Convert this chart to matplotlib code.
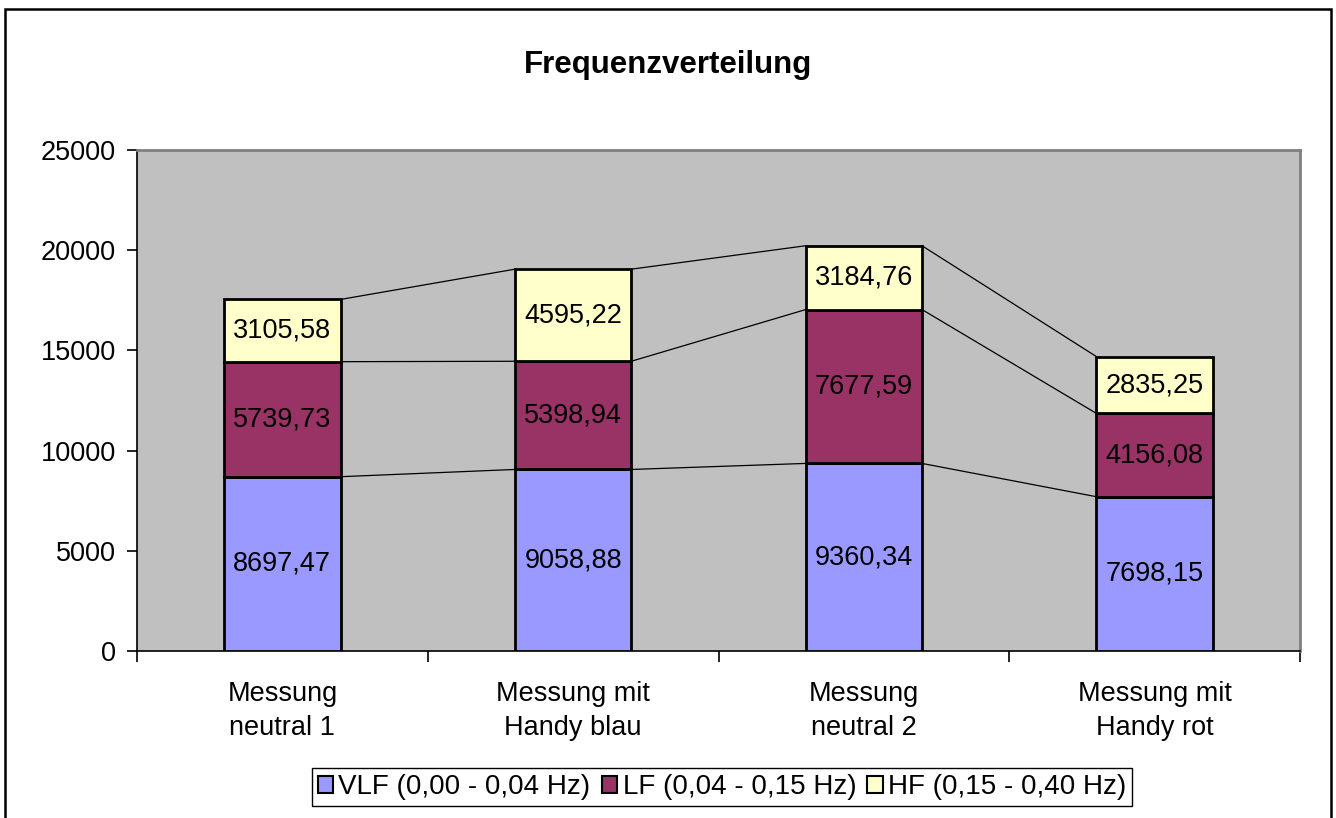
import numpy as np
import matplotlib.pyplot as plt
from matplotlib.patches import Rectangle, Patch
from matplotlib.ticker import FixedLocator

plt.rcParams['font.family'] = ['Liberation Sans', 'DejaVu Sans']

# Daten
kategorien = ["Messung\nneutral 1", "Messung mit\nHandy blau", "Messung\nneutral 2", "Messung mit\nHandy rot"]
vlf = [8697.47, 9058.88, 9360.34, 7698.15]
lf = [5739.73, 5398.94, 7677.59, 4156.08]
hf = [3105.58, 4595.22, 3184.76, 2835.25]
serien = ["VLF (0,00 - 0,04 Hz)", "LF (0,04 - 0,15 Hz)", "HF (0,15 - 0,40 Hz)"]
farben = ["#9999FF", "#993366", "#FFFFCC"]
y_ticks = [0, 5000, 10000, 15000, 20000, 25000]

fig = plt.figure(figsize=(13.36, 8.18), dpi=100)
ax = fig.add_axes([137 / 1336, 1 - 651 / 818, 1163 / 1336, 501 / 818])
ax.set_facecolor("#C0C0C0")

x = np.arange(len(kategorien))
breite = 0.4
unten = np.zeros(len(kategorien))
oben_stufen = []
for werte, farbe in zip([vlf, lf, hf], farben):
    werte = np.array(werte)
    ax.bar(x, werte, breite, bottom=unten, color=farbe, edgecolor="black", linewidth=2, zorder=3)
    for xi, b, v in zip(x, unten, werte):
        ax.text(xi, b + v / 2, f"{v:.2f}".replace(".", ","), ha="center", va="center",
                fontsize=19.5, zorder=4)
    unten = unten + werte
    oben_stufen.append(unten.copy())

# Verbindungslinien zwischen den Säulen
for stufe in oben_stufen:
    for i in range(len(x) - 1):
        ax.plot([x[i] + breite / 2, x[i + 1] - breite / 2], [stufe[i], stufe[i + 1]],
                color="black", linewidth=0.9, zorder=2)

ax.set_xlim(-0.5, len(kategorien) - 0.5)
ax.set_ylim(0, 25000)
ax.set_yticks(y_ticks)
ax.set_yticklabels([str(t) for t in y_ticks], fontsize=19.5)
ax.tick_params(axis="y", direction="out", length=7, width=1.2, pad=8)

ax.set_xticks(x)
ax.set_xticklabels(kategorien, fontsize=19.5, linespacing=1.4)
ax.xaxis.set_minor_locator(FixedLocator(np.arange(-0.5, len(kategorien), 1.0)))
ax.tick_params(axis="x", which="major", length=0, pad=21.5)
ax.tick_params(axis="x", which="minor", direction="out", length=8, width=1.2)

for s in ["top", "right"]:
    ax.spines[s].set_color("#808080")
    ax.spines[s].set_linewidth(2)
for s in ["left", "bottom"]:
    ax.spines[s].set_color("black")
    ax.spines[s].set_linewidth(1.2)

fig.text(0.5, 1 - 65 / 818, "Frequenzverteilung", ha="center", va="center",
         fontsize=22.5, fontweight="bold")

handles = [Patch(facecolor=f, edgecolor="black", linewidth=1.5) for f in farben]
leg = fig.legend(handles, serien, loc="center", bbox_to_anchor=(722 / 1336, 1 - 787 / 818),
                 ncol=3, fontsize=20, frameon=True, fancybox=False, framealpha=1,
                 edgecolor="black", handlelength=0.55, handleheight=0.55, handletextpad=0.2,
                 columnspacing=0.4, borderpad=0.2)
leg.get_frame().set_linewidth(1)

# Rahmen um die Grafik
fig.add_artist(Rectangle((5 / 1336, -0.05), 1326 / 1336, 1.05 - 9 / 818, transform=fig.transFigure,
                         fill=False, edgecolor="black", linewidth=1.8))

fig.savefig("out.png", dpi=100)
